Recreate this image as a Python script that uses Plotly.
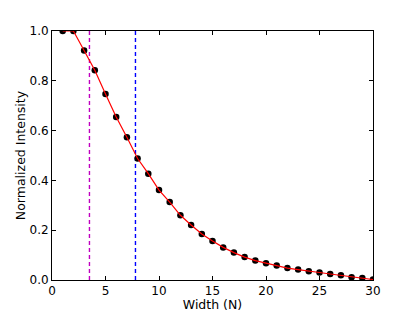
import plotly.graph_objects as go

width_n = list(range(1, 31))
intensity = [1.0, 1.0, 0.922, 0.842, 0.747, 0.655, 0.573, 0.488, 0.427, 0.361,
             0.313, 0.260, 0.221, 0.185, 0.157, 0.131, 0.110, 0.092, 0.078, 0.067,
             0.058, 0.048, 0.042, 0.035, 0.030, 0.024, 0.019, 0.011, 0.008, 0.002]
vline1_x = 3.5
vline2_x = 7.8
vline_y = [0.0, 1.0]

x_ticks = [0, 5, 10, 15, 20, 25, 30]
y_ticks = [0.0, 0.2, 0.4, 0.6, 0.8, 1.0]
y_tick_text = ["0.0", "0.2", "0.4", "0.6", "0.8", "1.0"]

fig = go.Figure()
fig.add_trace(go.Scatter(x=[vline1_x, vline1_x], y=vline_y, mode="lines",
                         line=dict(color="#c000c0", width=1.4, dash="4px,3px"),
                         showlegend=False, hoverinfo="skip"))
fig.add_trace(go.Scatter(x=[vline2_x, vline2_x], y=vline_y, mode="lines",
                         line=dict(color="#0000ff", width=1.4, dash="4px,3px"),
                         showlegend=False, hoverinfo="skip"))
fig.add_trace(go.Scatter(x=width_n, y=intensity, mode="markers",
                         marker=dict(color="black", size=6.5),
                         showlegend=False))
fig.add_trace(go.Scatter(x=width_n, y=intensity, mode="lines",
                         line=dict(color="#ff0000", width=1.2),
                         showlegend=False))

axis_common = dict(showline=True, linecolor="black", linewidth=1, mirror="ticks",
                   ticks="inside", ticklen=4, tickcolor="black", tickwidth=1,
                   showgrid=False, zeroline=False,
                   tickfont=dict(family="DejaVu Sans", size=12, color="black"))

# The page body has an 8px margin, so the figure is sized to fit the 415x312 window.
fig.update_layout(
    width=407, height=304,
    margin=dict(l=44, r=42, t=23, b=32),
    paper_bgcolor="white", plot_bgcolor="white",
    font=dict(family="DejaVu Sans", size=12, color="black"),
    xaxis=dict(range=[0, 30], tickvals=x_ticks,
               title=dict(text="Width (N)", standoff=2,
                          font=dict(family="DejaVu Sans", size=12.5)),
               automargin=False,
               **axis_common),
    yaxis=dict(range=[0, 1.0], tickvals=y_ticks, ticktext=y_tick_text,
               title=dict(text="Normalized Intensity", standoff=1,
                          font=dict(family="DejaVu Sans", size=12.5)),
               automargin=False,
               **axis_common),
)

fig.write_html("out.html")
